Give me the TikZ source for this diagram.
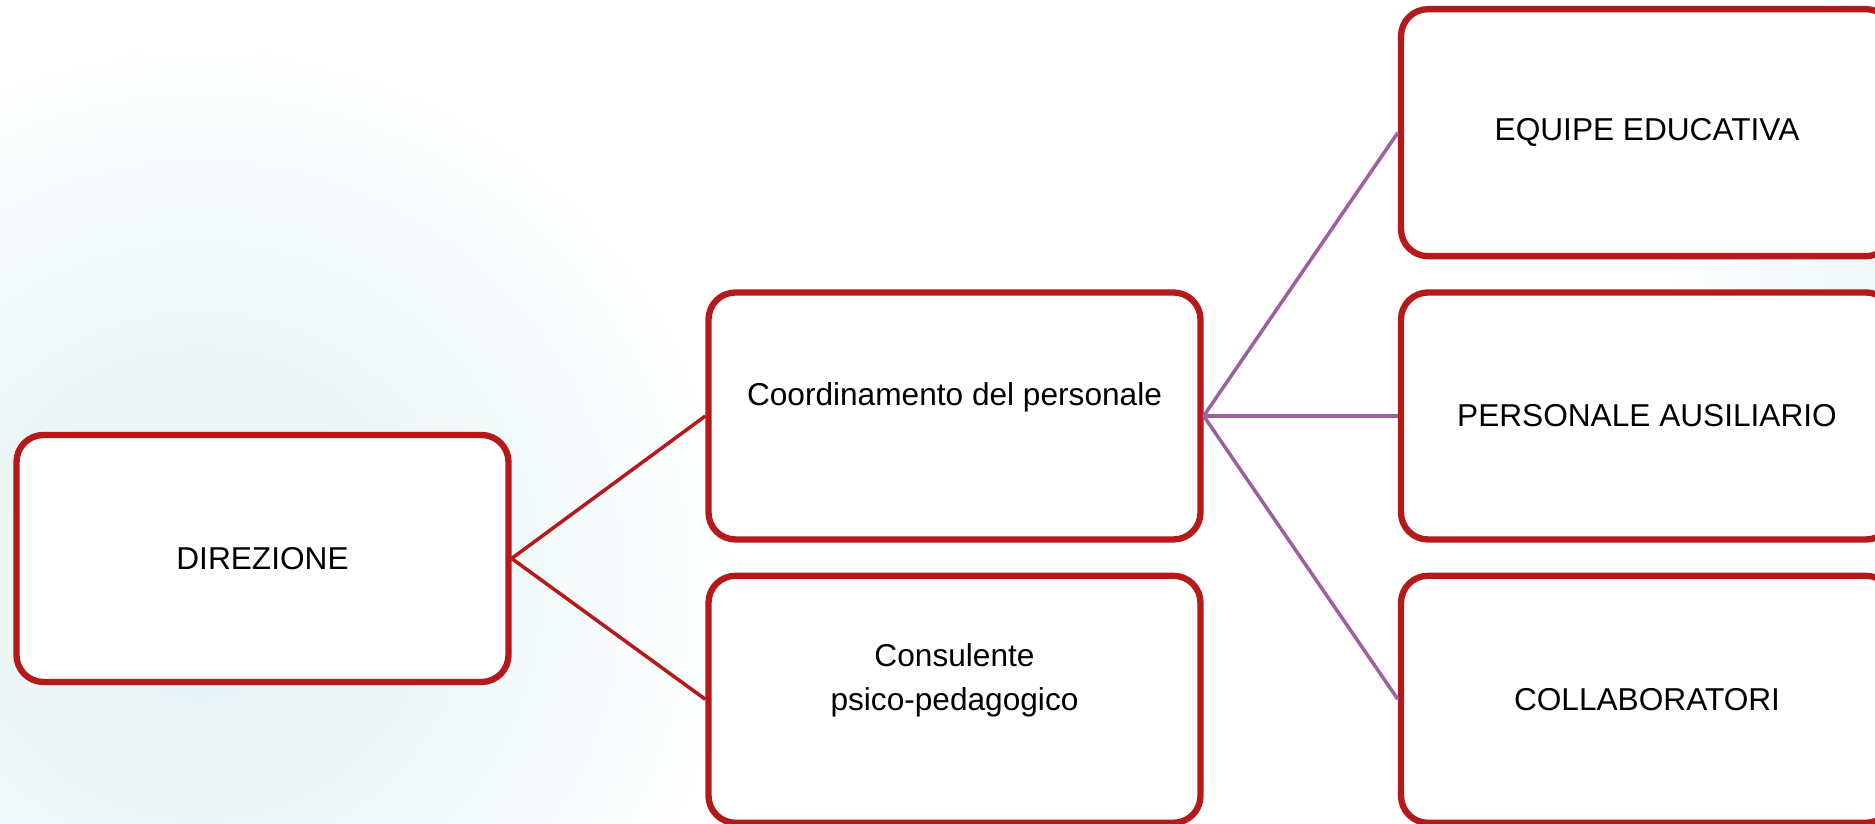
\documentclass[tikz,border=0pt]{standalone}
\usepackage{fontspec}
\setmainfont{Liberation Sans}
\usepackage{xcolor}
\usetikzlibrary{positioning}
\definecolor{boxred}{RGB}{181,25,26}
\definecolor{linkviolet}{RGB}{158,95,160}
\definecolor{glowteal}{RGB}{224,240,241}

\begin{document}
\begin{tikzpicture}[
  box/.style={draw=boxred, line width=1.8pt, rounded corners=0.27cm, fill=white,
    minimum width=4.92cm, minimum height=2.47cm, align=center,
    font=\fontsize{9}{12.5}\selectfont},
  redlink/.style={draw=boxred, line width=1pt},
  violetlink/.style={draw=linkviolet, line width=1pt}]
\useasboundingbox (0,0) rectangle (18.75,8.24);
% soft glow behind the chart
\shade [inner color=glowteal, outer color=white] (2.0,2.4) circle [radius=5.5];
\shade [inner color=glowteal!70, outer color=white] (19.6,5.5) circle [radius=3];

\node [box] (dir) at (2.625,2.655) {DIREZIONE};
\node [box] (coord) at (9.545,4.08) {Coordinamento del personale\\~};
\node [box, below=0.3cm of coord] (cons) {Consulente\\psico-pedagogico\\~};

\node [box] (personale) at (16.47,4.08) {PERSONALE AUSILIARIO};
\node [box, above=0.3cm of personale] (equipe) {EQUIPE EDUCATIVA};
\node [box, below=0.3cm of personale] (collab) {COLLABORATORI};

\draw [redlink] (dir.east) -- (coord.west);
\draw [redlink] (dir.east) -- (cons.west);
\foreach \n in {equipe,personale,collab}
  \draw [violetlink] (coord.east) -- (\n.west);
\end{tikzpicture}
\end{document}
